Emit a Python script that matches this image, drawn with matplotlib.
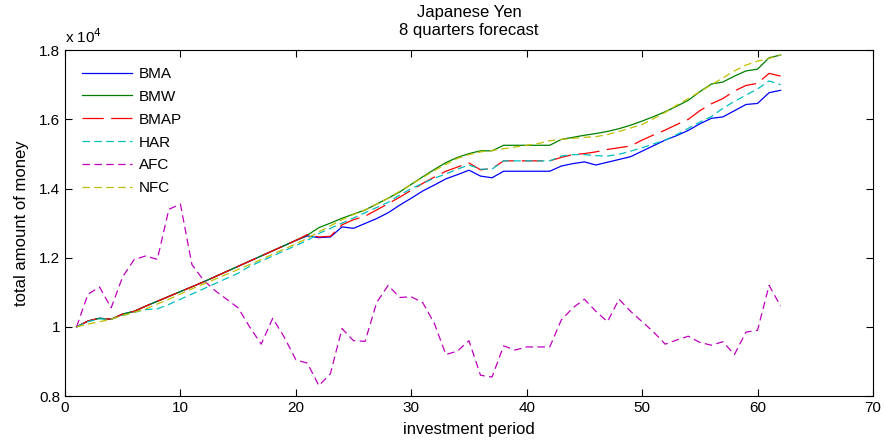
import matplotlib
matplotlib.use("Agg")
import matplotlib.pyplot as plt
from matplotlib.ticker import FuncFormatter
import numpy as np

plt.rcParams["font.family"] = ["Liberation Sans", "DejaVu Sans"]

period = list(range(1, 63))

bma = [10000, 10170, 10250, 10220, 10370, 10450, 10600, 10740, 10880, 11020,
       11160, 11300, 11450, 11600, 11750, 11900, 12050, 12200, 12350, 12500,
       12630, 12580, 12600, 12890, 12850, 12990, 13130, 13300, 13520, 13720,
       13930, 14100, 14280, 14400, 14530, 14360, 14310, 14500, 14500, 14500,
       14500, 14500, 14650, 14720, 14770, 14680, 14760, 14840, 14920, 15080,
       15240, 15400, 15530, 15680, 15870, 16030, 16070, 16250, 16430, 16460,
       16770, 16840]
bmw = [10000, 10170, 10250, 10220, 10370, 10450, 10600, 10740, 10880, 11020,
       11160, 11300, 11450, 11600, 11750, 11900, 12050, 12200, 12350, 12500,
       12650, 12870, 13000, 13140, 13260, 13380, 13550, 13720, 13900, 14120,
       14340, 14550, 14750, 14900, 15010, 15090, 15090, 15250, 15250, 15250,
       15250, 15250, 15420, 15480, 15540, 15590, 15650, 15730, 15830, 15950,
       16080, 16220, 16380, 16550, 16800, 17020, 17080, 17250, 17400, 17450,
       17780, 17860]
bmap = [10000, 10170, 10250, 10220, 10370, 10450, 10600, 10740, 10880, 11020,
        11160, 11300, 11450, 11600, 11750, 11900, 12050, 12200, 12350, 12500,
        12670, 12600, 12620, 12950, 13100, 13200, 13380, 13560, 13750, 13950,
        14150, 14330, 14500, 14620, 14740, 14540, 14580, 14800, 14800, 14800,
        14800, 14800, 14900, 14980, 15010, 15060, 15130, 15180, 15230, 15400,
        15550, 15690, 15850, 16000, 16250, 16450, 16600, 16820, 16980, 17040,
        17330, 17250]
har = [10000, 10150, 10230, 10220, 10330, 10420, 10500, 10520, 10650, 10800,
       10950, 11100, 11250, 11400, 11550, 11750, 11900, 12050, 12200, 12350,
       12500, 12700, 12850, 13000, 13150, 13300, 13450, 13600, 13810, 14000,
       14150, 14300, 14420, 14560, 14680, 14560, 14560, 14800, 14800, 14800,
       14800, 14800, 14940, 14980, 14980, 14950, 14940, 14990, 15080, 15180,
       15290, 15400, 15560, 15740, 15920, 16080, 16320, 16520, 16700, 16880,
       17110, 17000]
afc = [10000, 10950, 11150, 10550, 11450, 11950, 12050, 11950, 13400, 13550,
       11800, 11350, 11050, 10800, 10550, 10000, 9500, 10250, 9700, 9050,
       8950, 8300, 8650, 9950, 9600, 9580, 10700, 11200, 10850, 10870,
       10700, 10100, 9200, 9300, 9600, 8600, 8550, 9450, 9330, 9420,
       9420, 9420, 10200, 10550, 10800, 10450, 10150, 10800, 10450, 10150,
       9850, 9500, 9620, 9730, 9550, 9470, 9570, 9200, 9850, 9900,
       11200, 10600]
nfc = [10000, 10080, 10150, 10220, 10330, 10420, 10520, 10660, 10800, 10950,
       11100, 11240, 11380, 11520, 11660, 11800, 11950, 12100, 12250, 12400,
       12560, 12750, 12920, 13100, 13250, 13380, 13550, 13720, 13920, 14120,
       14320, 14520, 14700, 14870, 14980, 15060, 15100, 15150, 15200, 15250,
       15300, 15380, 15420, 15450, 15480, 15500, 15560, 15650, 15750, 15850,
       16020, 16200, 16410, 16600, 16800, 17000, 17200, 17400, 17570, 17680,
       17760, 17860]

fig = plt.figure(figsize=(8.84, 4.44), dpi=100)
ax = fig.add_axes([0.0735, 0.108, 0.914, 0.779])

lw = 0.9
ax.plot(period, bma, color="#0000ff", lw=lw, label="BMA")
ax.plot(period, bmw, color="#008000", lw=lw, label="BMW")
ax.plot(period, bmap, color="#ff0000", lw=lw, dashes=(17, 6), label="BMAP")
ax.plot(period, har, color="#00bfbf", lw=lw, dashes=(6, 3.5), label="HAR")
ax.plot(period, afc, color="#bf00bf", lw=lw, dashes=(6, 3.5), label="AFC")
ax.plot(period, nfc, color="#bfbf00", lw=lw, dashes=(6, 3.5), label="NFC")

ax.set_xlim(0, 70)
ax.set_ylim(8000, 18000)
ax.set_xticks(range(0, 71, 10))
ax.set_yticks(np.arange(8000, 18001, 2000))
ax.yaxis.set_major_formatter(FuncFormatter(lambda v, p: f"{v / 1e4:g}"))
ax.tick_params(direction="in", top=True, right=True, labelsize=11, length=5)
ax.text(0.0, 1.012, r"x 10$^4$", transform=ax.transAxes, fontsize=11, ha="left", va="bottom")

ax.set_xlabel("investment period", fontsize=12, labelpad=5)
ax.set_ylabel("total amount of money", fontsize=12, labelpad=7)
ax.set_title("Japanese Yen\n8 quarters forecast", fontsize=12, linespacing=1.25, pad=11)

ax.legend(loc="upper left", frameon=False, fontsize=11, handlelength=3.3,
          handletextpad=0.45, labelspacing=0.58, borderaxespad=0.7)

fig.savefig("out.png", dpi=100)
